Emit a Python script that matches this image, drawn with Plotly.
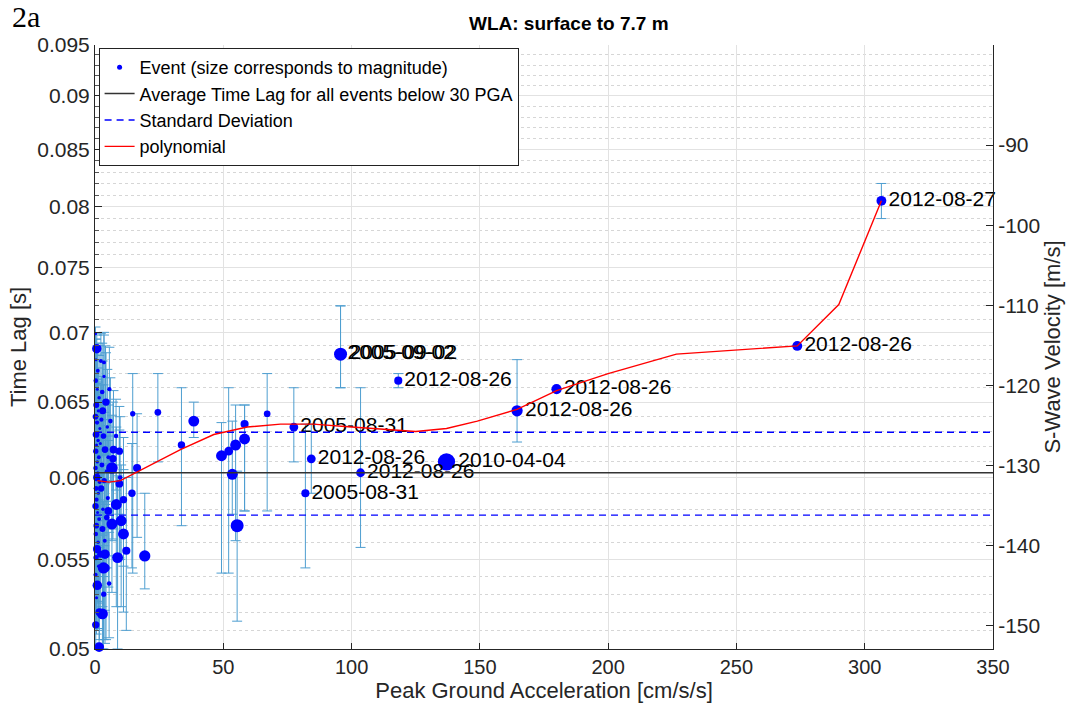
import math
import plotly.graph_objects as go

# ---------------- data ----------------
# cluster of small-PGA events (x ~ 0-2)
pga_a = [0.2, 0.7, 0.4, 1.1, 0.3, 0.9, 1.6, 0.5, 1.3, 0.2,
         0.8, 1.9, 0.4, 1.2, 0.6, 0.3, 1.5, 0.9, 0.2, 1.1,
         0.7, 1.8, 0.4, 1.3, 0.6, 0.2, 1.0, 1.6, 0.5, 0.3,
         1.2, 0.8, 0.4, 1.4, 0.2, 0.9, 0.6, 1.7, 0.3, 1.6]
lag_a = [0.0699, 0.0688, 0.0680, 0.0672, 0.0665, 0.0659, 0.0653, 0.0648, 0.0644, 0.0640,
         0.0636, 0.0632, 0.0628, 0.0624, 0.0621, 0.0617, 0.0613, 0.0610, 0.0606, 0.0603,
         0.0600, 0.0597, 0.0593, 0.0590, 0.0586, 0.0582, 0.0578, 0.0574, 0.0570, 0.0565,
         0.0560, 0.0556, 0.0551, 0.0546, 0.0541, 0.0535, 0.0528, 0.0520, 0.0513, 0.0501]
mag_a = [3.2, 5.0, 3.0, 3.4, 3.6, 3.1, 3.3, 4.0, 3.2, 3.9,
         3.5, 3.1, 4.2, 3.3, 3.0, 3.8, 3.4, 3.2, 3.6, 3.1,
         4.4, 3.3, 3.7, 3.2, 3.5, 4.1, 3.0, 3.4, 3.9, 3.6,
         3.3, 4.6, 3.8, 3.2, 3.5, 5.0, 3.1, 4.5, 4.4, 5.1]
eup_a = [0.0005, 0.0010, 0.0015, 0.0020, 0.0030, 0.0025, 0.0030, 0.0035, 0.0030, 0.0040,
         0.0030, 0.0025, 0.0035, 0.0040, 0.0030, 0.0035, 0.0030, 0.0040, 0.0035, 0.0030,
         0.0030, 0.0040, 0.0035, 0.0030, 0.0040, 0.0045, 0.0035, 0.0040, 0.0030, 0.0045,
         0.0040, 0.0035, 0.0045, 0.0040, 0.0035, 0.0045, 0.0040, 0.0050, 0.0045, 0.0020]
edn_a = [0.0020, 0.0030, 0.0025, 0.0030, 0.0035, 0.0030, 0.0035, 0.0040, 0.0030, 0.0035,
         0.0040, 0.0030, 0.0035, 0.0040, 0.0035, 0.0030, 0.0040, 0.0035, 0.0045, 0.0030,
         0.0035, 0.0040, 0.0030, 0.0035, 0.0040, 0.0035, 0.0030, 0.0040, 0.0035, 0.0030,
         0.0035, 0.0030, 0.0025, 0.0035, 0.0030, 0.0025, 0.0020, 0.0015, 0.0010, 0.0000]

# events with PGA ~ 2-6
pga_b = [2.3, 3.5, 2.8, 4.1, 3.0, 2.5, 4.8, 3.3, 2.1, 3.9, 5.2, 2.7,
         4.4, 3.6, 2.4, 5.0, 3.1, 4.6, 2.9, 3.8, 2.2, 4.3, 3.4, 5.5]
lag_b = [0.0679, 0.0668, 0.0657, 0.0650, 0.0644, 0.0638, 0.0633, 0.0627, 0.0622, 0.0618, 0.0613, 0.0608,
         0.0604, 0.0598, 0.0593, 0.0587, 0.0580, 0.0575, 0.0568, 0.0561, 0.0553, 0.0545, 0.0530, 0.0536]
mag_b = [3.4, 3.2, 3.6, 4.0, 4.3, 3.5, 3.3, 3.9, 3.1, 4.2, 3.4, 3.7,
         3.2, 3.8, 4.1, 3.5, 3.3, 3.9, 4.0, 3.4, 4.3, 4.4, 3.8, 3.6]
eup_b = [0.0020, 0.0030, 0.0035, 0.0040, 0.0035, 0.0030, 0.0040, 0.0035, 0.0040, 0.0030, 0.0035, 0.0040,
         0.0030, 0.0045, 0.0035, 0.0040, 0.0035, 0.0030, 0.0040, 0.0035, 0.0045, 0.0040, 0.0035, 0.0030]
edn_b = [0.0035, 0.0030, 0.0040, 0.0035, 0.0030, 0.0040, 0.0035, 0.0030, 0.0045, 0.0035, 0.0040, 0.0030,
         0.0035, 0.0040, 0.0045, 0.0035, 0.0040, 0.0030, 0.0045, 0.0040, 0.0035, 0.0040, 0.0025, 0.0030]

# events with PGA ~ 3-20
pga_c = [6.6, 9.5, 8.2, 7.2, 5.2, 6.6, 8.3, 10.2, 11.1, 12.2, 8.8, 11.1, 9.5,
         9.8, 14.4, 16.4, 19.4, 14.7, 5.6, 3.5, 4.3, 6.0, 7.0, 3.9, 3.3, 2.9]
lag_c = [0.0606, 0.0617, 0.0627, 0.0618, 0.0579, 0.0571, 0.0583, 0.0573, 0.0565, 0.0555, 0.0551, 0.0586, 0.0596,
         0.0600, 0.0590, 0.0606, 0.0552, 0.0642, 0.0659, 0.0678, 0.0650, 0.0637, 0.0612, 0.0553, 0.0545, 0.0519]
mag_c = [5.6, 4.4, 3.6, 4.5, 4.5, 5.4, 5.4, 5.4, 5.4, 4.6, 5.4, 4.4, 4.5,
         3.6, 4.4, 4.6, 5.5, 3.8, 3.5, 3.4, 4.4, 3.6, 4.4, 5.0, 5.5, 5.4]
eup_c = [0.0035, 0.0030, 0.0025, 0.0040, 0.0045, 0.0040, 0.0050, 0.0035, 0.0040, 0.0045, 0.0050, 0.0040, 0.0035,
         0.0040, 0.0032, 0.0036, 0.0038, 0.0028, 0.0030, 0.0022, 0.0035, 0.0030, 0.0038, 0.0045, 0.0040, 0.0045]
edn_c = [0.0045, 0.0040, 0.0035, 0.0050, 0.0045, 0.0040, 0.0060, 0.0050, 0.0045, 0.0045, 0.0051, 0.0040, 0.0045,
         0.0050, 0.0045, 0.0043, 0.0019, 0.0100, 0.0050, 0.0040, 0.0045, 0.0040, 0.0050, 0.0050, 0.0045, 0.0019]

# mid-range unlabeled events
pga_d = [24.5, 33.7, 38.5, 49.3, 52.1, 53.5, 54.8, 55.4, 58.3, 58.3, 67.1]
lag_d = [0.0643, 0.0621, 0.0637, 0.0614, 0.0617, 0.0602, 0.0621, 0.0570, 0.0625, 0.0635, 0.0642]
mag_d = [4.2, 4.4, 5.4, 5.4, 4.8, 5.4, 5.4, 6.0, 5.4, 4.6, 4.2]
eup_d = [0.0027, 0.0039, 0.0013, 0.0022, 0.0043, 0.0035, 0.0027, 0.0034, 0.0023, 0.0013, 0.0028]
edn_d = [0.0033, 0.0051, 0.0011, 0.0072, 0.0075, 0.0025, 0.0060, 0.0055, 0.0046, 0.0056, 0.0063]

# labeled events
pga_e = [77.5, 82.0, 84.3, 95.7, 95.7, 103.5, 118.2, 137.0, 164.5, 179.9, 273.7, 306.5]
lag_e = [0.0633, 0.0590, 0.0612, 0.0684, 0.0684, 0.0603, 0.0665, 0.0610, 0.0644, 0.0659, 0.0690, 0.0805]
mag_e = [4.8, 4.6, 4.8, 6.0, 5.0, 4.8, 4.6, 7.2, 5.5, 5.2, 5.1, 5.1]
eup_e = [0.0027, 0.0045, 0.0023, 0.0036, 0.0036, 0.0057, 0.0005, 0.0, 0.0036, 0.0, 0.0, 0.0015]
edn_e = [0.0023, 0.0045, 0.0022, 0.0024, 0.0024, 0.0046, 0.0005, 0.0, 0.0021, 0.0, 0.0, 0.0015]
label_e = ["2005-08-31", "2005-08-31", "2012-08-26", "2005-09-02", "2005-09-02", "2012-08-26",
           "2012-08-26", "2010-04-04", "2012-08-26", "2012-08-26", "2012-08-26", "2012-08-27"]

# average & standard deviation (events below 30 PGA)
avg_lag = 0.0603
std_lag = 0.00265
pga_range = [0, 350]

# polynomial fit curve
poly_pga = [0.9, 5.4, 9.9, 20.3, 33.3, 46.3, 59.3, 72.3, 85, 100, 115, 125, 137, 149,
            164.5, 179.9, 200, 226.6, 273.7, 289.9, 306.5]
poly_lag = [0.0598, 0.0597, 0.0598, 0.0607, 0.0618, 0.0628, 0.0633, 0.0635, 0.0635, 0.0633, 0.0631,
            0.0630, 0.0632, 0.0637, 0.0645, 0.0658, 0.0670, 0.0684, 0.0690, 0.0721, 0.0805]

# axes ticks
left_ticks = [0.05, 0.055, 0.06, 0.065, 0.07, 0.075, 0.08, 0.085, 0.09, 0.095]
left_ticktext = ["0.05", "0.055", "0.06", "0.065", "0.07", "0.075", "0.08", "0.085", "0.09", "0.095"]
right_ticks = [-150, -140, -130, -120, -110, -100, -90]
right_ticktext = ["-150", "-140", "-130", "-120", "-110", "-100", "-90"]
x_ticks = [0, 50, 100, 150, 200, 250, 300, 350]

# ---------------- assemble ----------------
pga = pga_a + pga_b + pga_c + pga_d + pga_e
lag = lag_a + lag_b + lag_c + lag_d + lag_e
mag = mag_a + mag_b + mag_c + mag_d + mag_e
eup = eup_a + eup_b + eup_c + eup_d + eup_e
edn = edn_a + edn_b + edn_c + edn_d + edn_e
labels = [""] * (len(pga) - len(pga_e)) + label_e

sizes = [max(3.0, 3.5 * m - 8.0) for m in mag]

FONT = "Liberation Sans, Arial, Helvetica, sans-serif"
ERRC = "rgb(78,158,208)"
AXC = "#262626"

fig = go.Figure()

fig.add_trace(go.Scatter(
    x=pga, y=lag, mode="markers+text", text=labels, textposition="middle right",
    textfont=dict(family=FONT, size=21, color="black"),
    marker=dict(color="#0000FF", size=sizes, opacity=1, line=dict(width=0)),
    error_y=dict(type="data", symmetric=False, array=eup, arrayminus=edn,
                 color=ERRC, thickness=1, width=5),
    showlegend=False, cliponaxis=False, hoverinfo="x+y"))

# legend-only entry for events
fig.add_trace(go.Scatter(
    x=[None], y=[None], mode="markers", name="Event (size corresponds to magnitude)",
    marker=dict(color="#0000FF", size=5)))

fig.add_trace(go.Scatter(
    x=pga_range, y=[avg_lag, avg_lag], mode="lines",
    name="Average Time Lag for all events below 30 PGA",
    line=dict(color="#333333", width=1.5)))

fig.add_trace(go.Scatter(
    x=pga_range + [None] + pga_range,
    y=[avg_lag + std_lag, avg_lag + std_lag, None, avg_lag - std_lag, avg_lag - std_lag],
    mode="lines", name="Standard Deviation",
    line=dict(color="#0000FF", width=1.3, dash="7px,5px")))

fig.add_trace(go.Scatter(
    x=poly_pga, y=poly_lag, mode="lines", name="polynomial",
    line=dict(color="#FF0000", width=1.4)))

# empty trace to make right axis render
fig.add_trace(go.Scatter(x=[None], y=[None], yaxis="y2", showlegend=False, hoverinfo="skip"))

minor_vals = []
for k in range(50, 96):
    if k % 5 != 0:
        minor_vals.append(k / 1000.0)

fig.update_layout(
    width=1075, height=709, autosize=False,
    margin=dict(l=95, r=82, t=45, b=60),
    paper_bgcolor="white", plot_bgcolor="white",
    font=dict(family=FONT, size=20, color=AXC),
    xaxis=dict(
        range=[0, 350], tickvals=x_ticks, showgrid=True, gridcolor="#e2e2e2", gridwidth=1,
        ticks="inside", ticklen=6, tickcolor=AXC, showline=True, linecolor=AXC, linewidth=1,
        zeroline=False, tickfont=dict(size=20, color=AXC),
        title=dict(text="Peak Ground Acceleration [cm/s/s]", font=dict(size=22, color=AXC), standoff=2),
    ),
    yaxis=dict(
        type="log", range=[math.log10(0.05), math.log10(0.095)],
        tickvals=left_ticks, ticktext=left_ticktext,
        showgrid=True, gridcolor="#e2e2e2", gridwidth=1,
        ticks="inside", ticklen=7, tickcolor=AXC, showline=True, linecolor=AXC, linewidth=1,
        zeroline=False, tickfont=dict(size=21, color=AXC),
        minor=dict(tickmode="array", tickvals=minor_vals, ticks="inside", ticklen=4,
                   tickcolor="#555555", showgrid=True, gridcolor="#d6d6d6", griddash="dot", gridwidth=1),
        title=dict(text="Time Lag [s]", font=dict(size=22, color=AXC), standoff=4),
    ),
    yaxis2=dict(
        overlaying="y", side="right", range=[-152.9, -77.5],
        tickvals=right_ticks, ticktext=right_ticktext,
        showgrid=False, zeroline=False, ticks="inside", ticklen=7, tickcolor=AXC,
        showline=True, linecolor=AXC, linewidth=1, tickfont=dict(size=21, color=AXC),
        title=dict(text="S-Wave Velocity [m/s]", font=dict(size=22, color=AXC), standoff=4),
    ),
    legend=dict(
        x=0.004, y=0.995, xanchor="left", yanchor="top",
        bgcolor="white", bordercolor="#222222", borderwidth=1,
        font=dict(family=FONT, size=18, color="black"),
        itemwidth=30, tracegroupgap=0,
    ),
    annotations=[
        dict(text="<b>WLA: surface to 7.7 m</b>", xref="paper", yref="paper",
             x=0.528, y=1.0, yshift=22, xanchor="center", yanchor="middle", showarrow=False,
             font=dict(family=FONT, size=19, color="black")),
        dict(text="2a", xref="paper", yref="paper", x=-0.095, y=1.0, yshift=47,
             xanchor="left", yanchor="top", showarrow=False,
             font=dict(family="Liberation Serif, Times New Roman, serif", size=30, color="black")),
    ],
)

fig.write_html("out.html")
